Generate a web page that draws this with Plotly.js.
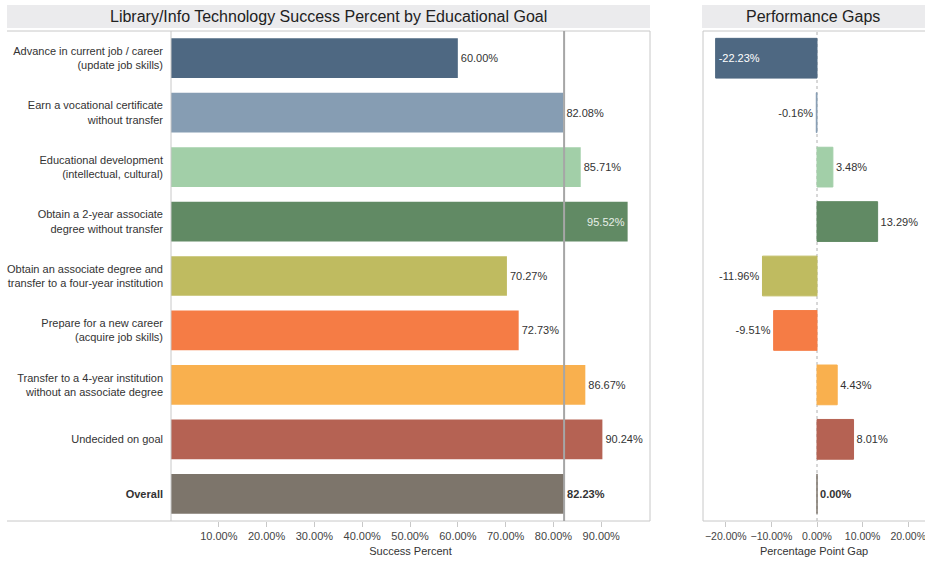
<!DOCTYPE html>
<html>
<head>
<meta charset="utf-8">
<script src="https://cdn.plot.ly/plotly-3.0.1.min.js"></script>
<style>html,body{margin:0;padding:0;background:#fff;}#chart{width:925px;height:561px;}</style>
</head>
<body>
<div id="chart"></div>
<script>
var categories = [
  "Advance in current job / career<br>(update job skills)",
  "Earn a vocational certificate<br>without transfer",
  "Educational development<br>(intellectual, cultural)",
  "Obtain a 2-year associate<br>degree without transfer",
  "Obtain an associate degree and<br>transfer to a four-year institution",
  "Prepare for a new career<br>(acquire job skills)",
  "Transfer to a 4-year institution<br>without an associate degree",
  "Undecided on goal",
  "<b>Overall</b>"
];
var successPct = [0.6000, 0.8208, 0.8571, 0.9552, 0.7027, 0.7273, 0.8667, 0.9024, 0.8223];
var gapPct = [-0.2223, -0.0016, 0.0348, 0.1329, -0.1196, -0.0951, 0.0443, 0.0801, 0.0000];
var barColors = ["#4e6882", "#869db3", "#a2cfa8", "#618a64", "#bfbb60", "#f57c45", "#f9b04e", "#b56253", "#7d756b"];
var successTicks = [0.1, 0.2, 0.3, 0.4, 0.5, 0.6, 0.7, 0.8, 0.9];
var gapTicks = [-0.2, -0.1, 0, 0.1, 0.2];
var overallSuccess = successPct[successPct.length - 1];

function pct(v) { return (v * 100).toFixed(2) + "%"; }
var lastIdx = categories.length - 1;

var leftText = successPct.map(function (v, i) { return i === lastIdx ? "<b>" + pct(v) + "</b>" : pct(v); });
var leftPos = successPct.map(function (v, i) { return i === 3 ? "inside" : "outside"; });
var leftTextColor = successPct.map(function (v, i) { return i === 3 ? "#e8efe8" : "#333333"; });

var rightText = gapPct.map(function (v, i) { return i === lastIdx ? "<b>" + pct(v) + "</b>" : pct(v); });
var rightPos = gapPct.map(function (v, i) { return i === 0 ? "inside" : "outside"; });
var rightTextColor = gapPct.map(function (v, i) { return i === 0 ? "#ffffff" : "#333333"; });

var font = "Liberation Sans, Arial, sans-serif";

var traces = [
  {
    type: "bar", orientation: "h", x: successPct, y: categories,
    xaxis: "x", yaxis: "y", width: 0.73,
    marker: { color: barColors, line: { width: 0 } },
    text: leftText, textposition: leftPos, insidetextanchor: "end",
    textfont: { family: font, size: 11, color: leftTextColor },
    cliponaxis: false, hoverinfo: "x+y", showlegend: false
  },
  {
    type: "bar", orientation: "h", x: gapPct, y: categories,
    xaxis: "x2", yaxis: "y2", width: 0.73,
    marker: { color: barColors, line: { color: barColors, width: 1 } },
    text: rightText, textposition: rightPos, insidetextanchor: "end",
    textfont: { family: font, size: 11, color: rightTextColor },
    cliponaxis: false, hoverinfo: "x+y", showlegend: false
  }
];

var L = 171, W = 754;
function px(x) { return (x - L) / W; }
var T = 31, H = 490;
function py(y) { return 1 - (y - T) / H; }

var layout = {
  width: 925, height: 561,
  margin: { l: L, r: 0, t: T, b: 40, pad: 0 },
  paper_bgcolor: "#ffffff", plot_bgcolor: "#ffffff",
  font: { family: font, size: 11, color: "#333333" },
  bargap: 0.27,
  xaxis: {
    domain: [0, px(650)], range: [0, 1.002],
    tickvals: successTicks, tickformat: ".2%", tickangle: 0,
    ticks: "outside", ticklen: 5, tickcolor: "#c8c8c8",
    showgrid: false, zeroline: false, showline: false,
    tickfont: { size: 11, color: "#444444" },
    title: { text: "Success Percent", font: { size: 11, color: "#333333" }, standoff: 6 },
    fixedrange: true
  },
  xaxis2: {
    domain: [px(703), 1], range: [-0.25, 0.2368],
    tickvals: gapTicks, tickformat: ".2%", tickangle: 0, ticklabeloverflow: "allow",
    ticks: "outside", ticklen: 5, tickcolor: "#c8c8c8",
    showgrid: false, zeroline: false, showline: false,
    tickfont: { size: 10.5, color: "#444444" },
    title: { text: "Percentage Point Gap", font: { size: 11, color: "#333333" }, standoff: 6 },
    fixedrange: true
  },
  yaxis: {
    type: "category", autorange: "reversed",
    showgrid: false, zeroline: false, showline: false,
    ticks: "", ticklabelstandoff: 7,
    tickfont: { size: 11, color: "#333333" },
    fixedrange: true
  },
  yaxis2: {
    type: "category", autorange: "reversed", anchor: "x2", matches: "y",
    showticklabels: false, showgrid: false, zeroline: false, showline: false,
    fixedrange: true
  },
  shapes: [
    { type: "rect", xref: "paper", yref: "paper", x0: px(7), x1: px(650), y0: py(5), y1: py(28), fillcolor: "#ebebed", line: { width: 0 }, layer: "below" },
    { type: "rect", xref: "paper", yref: "paper", x0: px(702), x1: px(925), y0: py(5), y1: py(28), fillcolor: "#ebebed", line: { width: 0 }, layer: "below" },
    { type: "line", xref: "paper", yref: "paper", x0: px(7), x1: px(650), y0: 1, y1: 1, line: { color: "#c8c8c8", width: 1 } },
    { type: "line", xref: "paper", yref: "paper", x0: px(7), x1: px(650), y0: 0, y1: 0, line: { color: "#c8c8c8", width: 1 } },
    { type: "line", xref: "paper", yref: "paper", x0: 0, x1: 0, y0: 0, y1: 1, line: { color: "#c8c8c8", width: 1 } },
    { type: "line", xref: "paper", yref: "paper", x0: px(650), x1: px(650), y0: 0, y1: 1, line: { color: "#c8c8c8", width: 1 } },
    { type: "line", xref: "paper", yref: "paper", x0: px(703), x1: 1, y0: 1, y1: 1, line: { color: "#c8c8c8", width: 1 } },
    { type: "line", xref: "paper", yref: "paper", x0: px(703), x1: 1, y0: 0, y1: 0, line: { color: "#c8c8c8", width: 1 } },
    { type: "line", xref: "paper", yref: "paper", x0: px(703), x1: px(703), y0: 0, y1: 1, line: { color: "#c8c8c8", width: 1 } },
    { type: "line", xref: "x", yref: "paper", x0: overallSuccess, x1: overallSuccess, y0: 0, y1: 1, line: { color: "#a6a6a6", width: 2 }, layer: "above" },
    { type: "line", xref: "x2", yref: "paper", x0: 0, x1: 0, y0: 0, y1: 1, line: { color: "#b0b0b0", width: 1, dash: "dot" }, layer: "below" }
  ],
  annotations: [
    { text: "Library/Info Technology Success Percent by Educational Goal", xref: "paper", yref: "paper", x: px(328.5), y: py(16.5), xanchor: "center", yanchor: "middle", showarrow: false, font: { size: 16, color: "#222222" } },
    { text: "Performance Gaps", xref: "paper", yref: "paper", x: px(813), y: py(16.5), xanchor: "center", yanchor: "middle", showarrow: false, font: { size: 16, color: "#222222" } }
  ]
};

Plotly.newPlot("chart", traces, layout, { displayModeBar: false, staticPlot: true });
</script>
</body>
</html>
